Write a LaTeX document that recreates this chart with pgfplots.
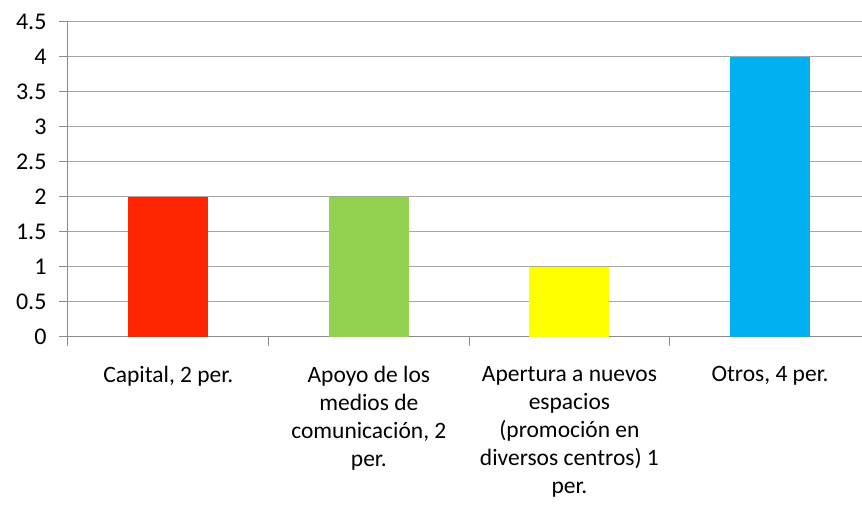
\documentclass[border=0pt]{standalone}
\usepackage{pgfplots}
\pgfplotsset{compat=1.18}
\usepackage{fontspec}
\setmainfont{Carlito}
\definecolor{cred}{HTML}{FF2500}
\definecolor{cgreen}{HTML}{92D050}
\definecolor{cyellow}{HTML}{FFFF00}
\definecolor{cblue}{HTML}{00B0F0}
\definecolor{axgray}{HTML}{8C8C8C}
\definecolor{gridgray}{HTML}{A6A6A6}
\begin{document}
\begin{tikzpicture}
\begin{axis}[
  scale only axis,
  width=794pt, height=315pt,
  xmin=-0.5, xmax=3.456,
  ymin=0, ymax=4.5,
  axis x line*=bottom, axis y line*=left,
  axis line style={axgray, line width=1pt},
  ytick={0,0.5,...,4.5},
  yticklabels={0,0.5,1,1.5,2,2.5,3,3.5,4,4.5},
  ymajorgrids, grid style={gridgray, line width=1pt},
  tick align=outside,
  major tick length=9pt,
  tick style={axgray, line width=1pt},
  xtick={0,1,2,3},
  xtick style={draw=none},
  xticklabels={{Capital, 2 per.},{Apoyo de los\\medios de\\comunicación, 2\\per.},{Apertura a nuevos\\espacios\\(promoción en\\diversos centros) 1\\per.},{Otros, 4 per.}},
  xticklabel style={align=center, font=\fontsize{23.5}{28}\selectfont, anchor=north, yshift=-17pt},
  extra x ticks={-0.5,0.5,1.5,2.5},
  extra x tick labels={},
  extra x tick style={xtick style={draw=axgray, line width=1pt}, major tick length=9pt, grid=none},
  yticklabel style={font=\fontsize{24}{28}\selectfont, xshift=-9pt},
  /pgf/number format/assume math mode=true,
  ybar, bar width=80pt,
  clip=false,
]
\addplot[fill=cred, draw=none, bar shift=0pt] coordinates {(0,2)};
\addplot[fill=cgreen, draw=none, bar shift=0pt] coordinates {(1,2)};
\addplot[fill=cyellow, draw=none, bar shift=0pt] coordinates {(2,1)};
\addplot[fill=cblue, draw=none, bar shift=0pt] coordinates {(3,4)};
\end{axis}
\path (current axis.south west) ++(-68pt,-178pt) rectangle ++(862pt,515pt);
\end{tikzpicture}
\end{document}
